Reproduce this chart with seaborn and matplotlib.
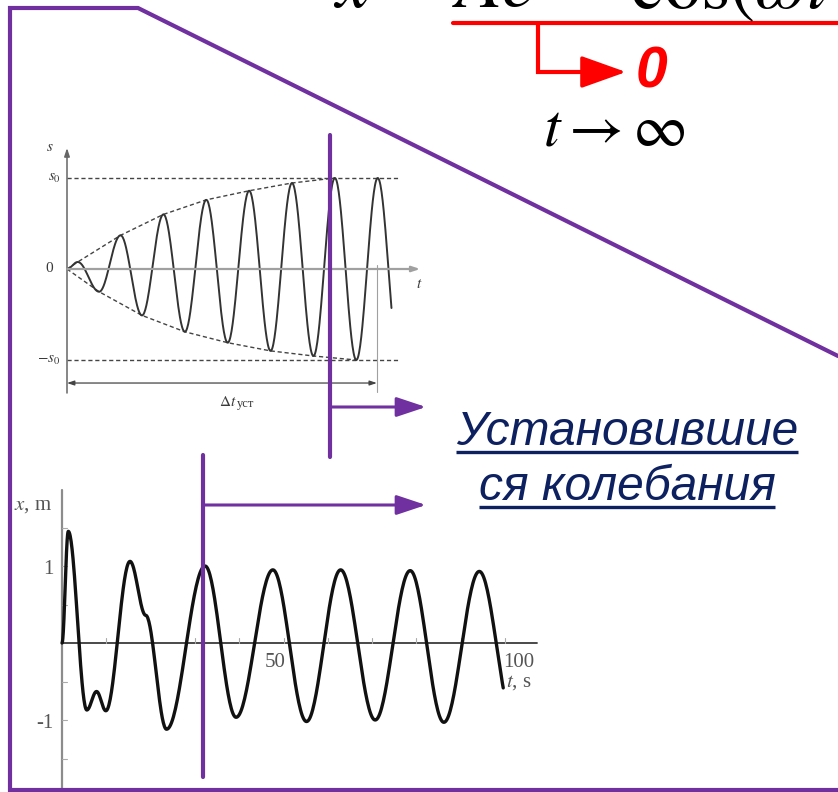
import numpy as np
import pandas as pd
import matplotlib
matplotlib.use("Agg")
import matplotlib.pyplot as plt
import seaborn as sns

sns.set_theme(style="white")
plt.rcParams["font.family"] = ["Liberation Serif", "DejaVu Serif"]
plt.rcParams["mathtext.fontset"] = "stix"

# ---- data -------------------------------------------------------------
# Build-up of forced oscillations: extrema of s(t) (t in periods, s in s0)
build_t = [0.0, 0.25, 0.75, 1.25, 1.75, 2.25, 2.75, 3.25, 3.75, 4.25,
           4.75, 5.25, 5.75, 6.25, 6.75, 7.25, 7.75]
build_s = [0.0, 0.077, -0.25, 0.37, -0.51, 0.60, -0.69, 0.76, -0.81, 0.86,
           -0.90, 0.945, -0.956, 1.0, -1.0, 1.0, -1.0]
build_end = 7.58
env_up_t = [0.0, 0.25, 1.25, 2.25, 3.25, 4.25, 5.25, 6.25]
env_up_s = [0.0, 0.077, 0.37, 0.60, 0.76, 0.86, 0.945, 1.0]
env_lo_t = [0.0, 0.75, 1.75, 2.75, 3.75, 4.75, 5.75, 6.75]
env_lo_s = [0.0, -0.25, -0.51, -0.69, -0.81, -0.90, -0.956, -1.0]
s0_level = 1.0
dt_settle = 7.23

# Transient + steady oscillation x(t), t in s, x in m: extrema / shoulders
osc_t = [0.0, 1.42, 5.6, 7.8, 9.9, 15.35, 18.9, 23.6, 32.3, 39.3, 47.6,
         55.2, 62.9, 70.7, 78.6, 86.2, 94.2, 102.0]
osc_x = [0.0, 1.45, -0.87, -0.63, -0.88, 1.06, 0.36, -1.12, 1.0, -0.965,
         0.95, -1.02, 0.95, -1.0, 0.94, -1.03, 0.93, -1.0]
osc_end = 99.7
osc_xticks = [10, 20, 30, 40, 50, 60, 70, 80, 90, 100]
osc_yticks = [-1.5, -1.0, -0.5, 0.5, 1.0, 1.5]
osc_xlabels = {50: "50", 100: "100"}
osc_ylabels = {1.0: "1", -1.0: "-1"}


def smooth_through(tk, yk, t_stop, n=40):
    """Half-cosine segments between successive turning points."""
    ts, ys = [], []
    for i, (t0, t1, y0, y1) in enumerate(zip(tk[:-1], tk[1:], yk[:-1], yk[1:])):
        f = np.linspace(0, 1, n)[(1 if i else 0):]
        ts.append(t0 + (t1 - t0) * f)
        ys.append((y0 + y1) / 2 + (y0 - y1) / 2 * np.cos(np.pi * f))
    t = np.concatenate(ts)
    y = np.concatenate(ys)
    keep = t <= t_stop
    return pd.DataFrame({"t": t[keep], "v": y[keep]})


# ---- figure -----------------------------------------------------------
W, H = 838, 792
fig = plt.figure(figsize=(W / 100, H / 100), dpi=100)
fig.patch.set_facecolor("white")


def px_axes(x0, y0, x1, y1, z=1):
    ax = fig.add_axes([x0 / W, 1 - y1 / H, (x1 - x0) / W, (y1 - y0) / H], zorder=z)
    ax.set_axis_off()
    ax.patch.set_alpha(0)
    return ax


# --- upper small chart: build-up of oscillations ---
ax1 = px_axes(20, 130, 440, 420)
ax1.set_xlim(-47 / 42.86, 373 / 42.86)
ax1.set_ylim((269 - 420) / 91, (269 - 130) / 91)
grey1 = "#444444"
ax1.annotate("", xy=(0, 1.33), xytext=(0, -1.363),
             arrowprops=dict(arrowstyle="-|>,head_length=0.6,head_width=0.2",
                             lw=1.1, color="#666666", shrinkA=0, shrinkB=0,
                             mutation_scale=8))
ax1.annotate("", xy=(8.24, 0), xytext=(0, 0),
             arrowprops=dict(arrowstyle="-|>,head_length=0.6,head_width=0.2",
                             lw=1.6, color="#a0a0a0", shrinkA=0, shrinkB=0,
                             mutation_scale=8))
for lvl in (s0_level, -s0_level):
    ax1.plot([0, 7.72], [lvl, lvl], color=grey1, lw=1.0, ls=(0, (3, 2)))
sns.lineplot(x=env_up_t, y=env_up_s, ax=ax1, color=grey1, lw=1.0,
             linestyle=(0, (3, 2)), estimator=None, sort=False)
sns.lineplot(x=env_lo_t, y=env_lo_s, ax=ax1, color=grey1, lw=1.0,
             linestyle=(0, (3, 2)), estimator=None, sort=False)
build_df = smooth_through(build_t, build_s, build_end)
sns.lineplot(data=build_df, x="t", y="v", ax=ax1, color="#333333", lw=1.4,
             estimator=None, sort=False)
ax1.plot([dt_settle, dt_settle], [0.044, -1.35], color="#a0a0a0", lw=0.8)
ax1.annotate("", xy=(dt_settle, -1.253), xytext=(0, -1.253),
             arrowprops=dict(arrowstyle="<|-|>,head_length=0.6,head_width=0.2",
                             lw=0.9, color="#444444", shrinkA=0, shrinkB=0,
                             mutation_scale=7))
lab = dict(color="#3a3a3a", fontsize=11)
ax1.text(-0.4, 1.33, "$s$", ha="center", va="center", **lab)
ax1.text(-0.15, 1.0, "$s_0$", ha="right", va="center", **lab)
ax1.text(-0.33, 0.0, "0", ha="right", va="center", **lab)
ax1.text(-0.15, -1.0, "$-s_0$", ha="right", va="center", **lab)
ax1.text(8.15, -0.17, "$t$", ha="left", va="center", **lab)
ax1.text(3.95, -1.5, r"$\Delta t$", ha="right", va="baseline", **lab)
ax1.text(3.97, -1.52, "уст", ha="left", va="baseline", color="#3a3a3a",
         fontsize=9)

# --- lower chart: transient and steady-state oscillation ---
ax2 = px_axes(20, 480, 545, 792)
ax2.set_xlim((20 - 62) / 4.43, (545 - 62) / 4.43)
ax2.set_ylim((643 - 792) / 77, (643 - 480) / 77)
ax2.plot([0, 0], [(643 - 800) / 77, (643 - 490) / 77], color="#8c8c8c", lw=1.6)
ax2.plot([0, 107.2], [0, 0], color="#3a3a3a", lw=1.3)
for tk in osc_xticks:
    ax2.plot([tk, tk], [0, 0.07], color="#aaaaaa", lw=0.8)
for yt in osc_yticks:
    ax2.plot([0, 1.1], [yt, yt], color="#aaaaaa", lw=0.8)
osc_df = smooth_through(osc_t, osc_x, osc_end)
sns.lineplot(data=osc_df, x="t", y="v", ax=ax2, color="#111111", lw=2.4,
             estimator=None, sort=False)
lab2 = dict(color="#555555", fontsize=15)
for yt, txt in osc_ylabels.items():
    ax2.text(-2.0, yt - 0.05, txt, ha="right", va="center", **lab2)
for tk, txt in osc_xlabels.items():
    ax2.text(tk - 1.8 if tk == 50 else tk + 3.0, -0.25, txt,
             ha="center", va="center", **lab2)
ax2.text(103.2, -0.51, "$t$, s", ha="center", va="center", **lab2)
ax2.text(-6.6, 1.79, "$x$, m", ha="center", va="center", **lab2)

# --- overlay: frame, pointers, formula, caption ---
ov = px_axes(0, 0, W, H, z=10)
ov.set_xlim(0, W)
ov.set_ylim(H, 0)
purple = "#7030A0"
ov.plot([838, 10, 10, 138, 838], [790, 790, 8, 8, 356], color=purple, lw=3.0,
        solid_joinstyle="miter")
ov.plot([330, 330], [135, 457], color=purple, lw=3.0, solid_capstyle="round")
ov.plot([203, 203], [455, 777], color=purple, lw=3.0, solid_capstyle="round")
for y in (407, 505):
    x0 = 330 if y == 407 else 203
    ov.annotate("", xy=(426, y), xytext=(x0, y),
                arrowprops=dict(arrowstyle="-|>,head_length=18,head_width=6",
                                lw=2.2, color=purple, shrinkA=0, shrinkB=0,
                                mutation_scale=1))

red = "#FF0000"
ov.plot([453, 845], [23, 23], color=red, lw=3.0, solid_capstyle="round")
ov.plot([538, 538, 590], [23, 72, 72], color=red, lw=3.0,
        solid_joinstyle="miter")
ov.annotate("", xy=(626, 72), xytext=(585, 72),
            arrowprops=dict(arrowstyle="-|>,head_length=28,head_width=10",
                            lw=2.5, color=red, shrinkA=0, shrinkB=0,
                            mutation_scale=1))
ov.text(652, 88, "0", color=red, fontsize=41, fontweight="bold",
        fontstyle="italic", family=["Liberation Sans", "DejaVu Sans"],
        ha="center", va="baseline")
ov.text(614, 146, r"$t \rightarrow \infty$", fontsize=43, ha="center",
        va="baseline", color="black")

# damped-oscillation formula, running past the top edge of the slide
ov.text(333, 8, r"$x\ =$", fontsize=54, ha="left", va="baseline", color="black")
ov.text(452, 8, r"$Ae^{-\beta t}$", fontsize=54, ha="left", va="baseline",
        color="black")
ov.text(630, 8, r"$\cos(\omega t+\varphi)$", fontsize=54, ha="left",
        va="baseline", color="black")

navy = "#0D2060"
cap_lines = ["Установившие", "ся колебания"]
cap_base = [445, 500]
cap_texts = []
for txt, yb in zip(cap_lines, cap_base):
    cap_texts.append(ov.text(627, yb, txt, fontsize=34.5, fontstyle="italic",
                             family=["Liberation Sans", "DejaVu Sans"],
                             color=navy, ha="center", va="baseline"))

fig.canvas.draw()
inv = ov.transData.inverted()
for t_obj, yb in zip(cap_texts, cap_base):
    bb = t_obj.get_window_extent()
    (xa, _), (xb, _) = inv.transform([(bb.x0, bb.y0), (bb.x1, bb.y0)])
    ov.plot([xa, xb], [yb + 7, yb + 7], color=navy, lw=2.4, solid_capstyle="butt")

fig.savefig("out.png", dpi=100, facecolor="white")
